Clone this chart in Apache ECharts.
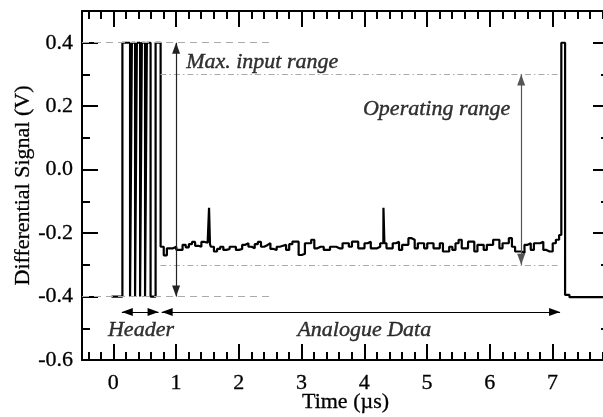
<!DOCTYPE html>
<html><head><meta charset="utf-8">
<script src="https://cdn.jsdelivr.net/npm/echarts@6/dist/echarts.min.js"></script>
<style>html,body{margin:0;padding:0;background:#fff}#c{width:603px;height:417px}</style>
</head><body><div id="c"></div>
<script>
// ---- tick values ----
const xMajorTicks = [0, 1, 2, 3, 4, 5, 6, 7];
const xMinorTicks = [-0.4, -0.2, 0.2, 0.4, 0.6, 0.8, 1.2, 1.4, 1.6, 1.8, 2.2, 2.4, 2.6, 2.8,
  3.2, 3.4, 3.6, 3.8, 4.2, 4.4, 4.6, 4.8, 5.2, 5.4, 5.6, 5.8, 6.2, 6.4, 6.6, 6.8, 7.2, 7.4, 7.6, 7.8];
const yMajorTicks = [-0.6, -0.4, -0.2, 0, 0.2, 0.4];
const yMinorTicks = [-0.5, -0.3, -0.1, 0.1, 0.3];

// ---- signal data ----
const traceStart = -0.03;
const headerLevels = [0.4, -0.4];          // high, low
const headerHighs = [[0.144, 0.266], [0.295, 0.346], [0.375, 0.426], [0.454, 0.505], [0.534, 0.593], [0.673, 0.753]];
const analogStep = 0.05;
const analogValues = [
  -0.243, -0.270, -0.248, -0.248, -0.243, -0.253, -0.253, -0.237, -0.245, -0.235,
  -0.228, -0.240, -0.243, -0.228, -0.230, -0.235, -0.243, -0.258, -0.250, -0.243,
  -0.253, -0.250, -0.243, -0.243, -0.253, -0.250, -0.237, -0.232, -0.243, -0.248,
  -0.235, -0.228, -0.243, -0.238, -0.232, -0.250, -0.253, -0.243, -0.240, -0.237,
  -0.253,
  -0.235, -0.227, -0.227, -0.269, -0.265, -0.232, -0.232, -0.221, -0.248, -0.243,
  -0.243, -0.253, -0.253, -0.243, -0.243, -0.248, -0.248, -0.232, -0.232, -0.243,
  -0.227, -0.227, -0.248, -0.248, -0.232, -0.227, -0.248, -0.248, -0.243, -0.232,
  -0.232, -0.248, -0.248, -0.232, -0.227, -0.253, -0.237, -0.237, -0.216, -0.221,
  -0.248, -0.232, -0.232, -0.248, -0.232, -0.232, -0.248, -0.248, -0.232, -0.258,
  -0.258, -0.243,
  -0.253, -0.232, -0.221, -0.248, -0.248, -0.227, -0.227, -0.258, -0.237, -0.237,
  -0.253, -0.237, -0.237, -0.221, -0.221, -0.248, -0.232, -0.232, -0.216, -0.243,
  -0.258, -0.258, -0.263, -0.237, -0.232, -0.253, -0.232, -0.232, -0.227, -0.253,
  -0.258, -0.258, -0.232, -0.221
];
const spikes = [[1.525, -0.12], [4.305, -0.12]];
const spikeWidth = 0.015;
const tail = [[7.105, -0.206], [7.14, 0.4], [7.2, -0.395], [7.27, -0.402], [7.9, -0.402]];

// ---- annotation data ----
const inputRange = [-0.4, 0.4];
const operatingRange = [-0.3, 0.3];
const inputGuideX = [-0.5, 2.5];
const operatingGuideX = [0.75, 7.08];
const inputArrowX = 1.0;
const operatingArrowX = 6.5;
const headerSpan = [0.135, 0.72];
const analogSpan = [0.77, 7.12];
const spanY = -0.449;
const labelTexts = ['Max. input range', 'Operating range', 'Header', 'Analogue Data'];
const labelPos = [[1.16, 0.337], [6.326, 0.189], [0.44, -0.505], [4.0, -0.505]];
const labelAlign = ['left', 'right', 'center', 'center'];

function buildTrace() {
  const pts = [[traceStart, headerLevels[1]]];
  headerHighs.forEach((h, k) => {
    pts.push([h[0], headerLevels[0]]);
    if (k < headerHighs.length - 1) pts.push([h[1], headerLevels[1]]);
  });
  const a0 = headerHighs[headerHighs.length - 1][1];
  const analog = analogValues.map((v, i) => [a0 + i * analogStep, v]);
  spikes.forEach(s => {
    const idx = Math.floor((s[0] - a0) / analogStep);
    analog.push([s[0], s[1]]);
    analog.push([s[0] + spikeWidth, analogValues[idx]]);
  });
  analog.sort((a, b) => a[0] - b[0]);
  return pts.concat(analog, tail);
}

const FONT = '"Liberation Serif","Times New Roman",serif';
const axisFont = { fontFamily: FONT, fontSize: 22, color: '#000', textBorderColor: '#000', textBorderWidth: 0.3 };
const tickLine = { color: '#000', width: 2 };

function xAx(pos, major, main) {
  return {
    type: 'value', min: -0.5, max: 7.9, position: pos, gridIndex: 0,
    splitLine: { show: false },
    axisLine: { show: main, onZero: false, lineStyle: { color: '#000', width: 2 } },
    axisTick: { show: true, inside: true, length: major ? 16 : 8, customValues: major ? xMajorTicks : xMinorTicks, lineStyle: tickLine },
    axisLabel: (pos === 'bottom' && major) ? Object.assign({ customValues: xMajorTicks, margin: 12 }, axisFont) : { show: false },
    name: (pos === 'bottom' && major) ? 'Time (µs)' : '',
    nameLocation: 'middle', nameGap: 31, nameMoveOverlap: false, nameTextStyle: axisFont
  };
}
function yAx(pos, major, main) {
  return {
    type: 'value', min: -0.6, max: 0.5, position: pos, gridIndex: 0,
    splitLine: { show: false },
    axisLine: { show: main, onZero: false, lineStyle: { color: '#000', width: 2 } },
    axisTick: { show: true, inside: true, length: major ? 16 : 8, customValues: major ? yMajorTicks : yMinorTicks, lineStyle: tickLine },
    axisLabel: (pos === 'left' && major) ? Object.assign({ customValues: yMajorTicks, margin: 9, formatter: v => Number(v).toFixed(1) }, axisFont) : { show: false },
    name: (pos === 'left' && major) ? 'Differential Signal (V)' : '',
    nameLocation: 'middle', nameGap: 48, nameMoveOverlap: false, nameTextStyle: axisFont
  };
}

const guideDash = { color: '#aaa', width: 1, type: [7, 5] };
const guideDashDot = { color: '#aaa', width: 1, type: [6, 3, 1.5, 3] };
function seg(x0, x1, y, style) {
  return [{ coord: [x0, y], symbol: 'none', lineStyle: style }, { coord: [x1, y], symbol: 'none' }];
}
function varrow(x, y0, y1, color) {
  return [{ coord: [x, y0], lineStyle: { color: color, width: 1.2, type: 'solid' } }, { coord: [x, y1] }];
}
function harrow(x0, x1, y) {
  return [{ coord: [x0, y], lineStyle: { color: '#000', width: 1, type: 'solid' } }, { coord: [x1, y] }];
}

const option = {
  animation: false,
  backgroundColor: '#fff',
  grid: { left: 82, top: 11, width: 527, height: 349, containLabel: false, outerBoundsMode: 'none' },
  xAxis: [xAx('bottom', true, true), xAx('bottom', false, false), xAx('top', true, true), xAx('top', false, false)],
  yAxis: [yAx('left', true, true), yAx('left', false, false), yAx('right', true, true), yAx('right', false, false)],
  series: [
    {
      type: 'line', name: 'guides', data: [], silent: true,
      markLine: {
        silent: true, symbol: ['none', 'none'], label: { show: false }, animation: false,
        data: [
          seg(inputGuideX[0], inputGuideX[1], inputRange[1], guideDash),
          seg(inputGuideX[0], inputGuideX[1], inputRange[0], guideDash),
          seg(operatingGuideX[0], operatingGuideX[1], operatingRange[1], guideDashDot),
          seg(operatingGuideX[0], operatingGuideX[1], operatingRange[0], guideDashDot)
        ]
      }
    },
    {
      type: 'line', name: 'signal', data: buildTrace(), step: 'end', showSymbol: false, symbol: 'none',
      lineStyle: { color: '#000', width: 2.2 }, silent: true, z: 3
    },
    {
      type: 'line', name: 'arrows', data: [], silent: true, z: 4,
      markLine: {
        silent: true, symbol: ['triangle', 'triangle'], symbolSize: [8, 11], symbolOffset: [[0, '50%'], [0, '50%']],
        label: { show: false }, animation: false,
        data: [
          varrow(inputArrowX, inputRange[1], inputRange[0], '#222'),
          varrow(operatingArrowX, operatingRange[1], operatingRange[0], '#555'),
          harrow(headerSpan[0], headerSpan[1], spanY),
          harrow(analogSpan[0], analogSpan[1], spanY)
        ]
      }
    },
    {
      type: 'scatter', name: 'labels', symbolSize: 0, itemStyle: { color: '#000' }, silent: true, z: 5,
      data: labelTexts.map((t, i) => ({
        name: t, value: labelPos[i],
        label: { show: true, position: 'inside', formatter: '{b}', align: labelAlign[i], verticalAlign: 'middle',
          fontFamily: FONT, fontStyle: 'italic', fontSize: 22, color: '#000', textBorderColor: '#000', textBorderWidth: 0.4 }
      }))
    }
  ]
};
const chart = echarts.init(document.getElementById('c'));
chart.setOption(option);
</script>
</body></html>
